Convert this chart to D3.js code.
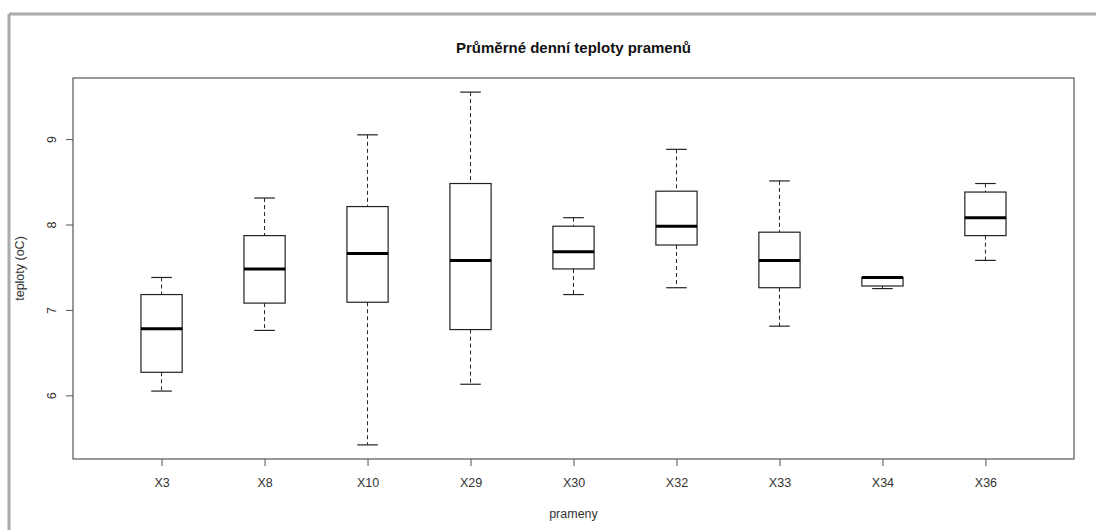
<!DOCTYPE html>
<html>
<head>
<meta charset="utf-8">
<script src="https://cdn.jsdelivr.net/npm/d3@7"></script>
<style>
  body { margin: 0; background: white; }
  svg text { font-family: "Liberation Sans", Arial, sans-serif; }
</style>
</head>
<body>
<div id="chart"></div>
<script>
// values
const categories = ["X3", "X8", "X10", "X29", "X30", "X32", "X33", "X34", "X36"];
const lowWhisker  = [6.05, 6.76, 5.42, 6.13, 7.18, 7.26, 6.81, 7.25, 7.58];
const q1          = [6.27, 7.08, 7.09, 6.77, 7.48, 7.76, 7.26, 7.28, 7.87];
const medians     = [6.78, 7.48, 7.66, 7.58, 7.68, 7.98, 7.58, 7.38, 8.08];
const q3          = [7.18, 7.87, 8.21, 8.48, 7.98, 8.39, 7.91, 7.38, 8.38];
const highWhisker = [7.38, 8.31, 9.05, 9.55, 8.08, 8.88, 8.51, 7.38, 8.48];
const yTicks = [6, 7, 8, 9];

const width = 1096, height = 530;
const plot = { left: 73, top: 78, right: 1074, bottom: 459 };

const svg = d3.select('#chart').append('svg')
    .attr('width', width)
    .attr('height', height);

// grey frame of the screenshot (top and left only)
svg.append('line').attr('x1', 9).attr('x2', width).attr('y1', 14).attr('y2', 14)
    .attr('stroke', '#aaa').attr('stroke-width', 3);
svg.append('line').attr('x1', 9).attr('x2', 9).attr('y1', 14).attr('y2', height)
    .attr('stroke', '#aaa').attr('stroke-width', 3);

const boxes = categories.map((c, i) => ({
    name: c, pos: i + 1,
    lo: lowWhisker[i], q1: q1[i], med: medians[i], q3: q3[i], hi: highWhisker[i]
}));

// R style 4% padding on both axes
const n = categories.length;
const xPad = n * 0.04;
const x = d3.scaleLinear()
    .domain([0.5 - xPad, n + 0.5 + xPad])
    .range([plot.left, plot.right]);

const yMin = d3.min(lowWhisker), yMax = d3.max(highWhisker);
const yPad = (yMax - yMin) * 0.04;
const y = d3.scaleLinear()
    .domain([yMin - yPad, yMax + yPad])
    .range([plot.bottom, plot.top]);

const boxW = x(1.4) - x(1);
const capW = boxW / 2;

const g = svg.append('g');

// whiskers (dashed)
g.selectAll('.whisk-hi').data(boxes).enter().append('line')
    .attr('x1', d => x(d.pos)).attr('x2', d => x(d.pos))
    .attr('y1', d => y(d.hi)).attr('y2', d => y(d.q3))
    .attr('stroke', '#222').attr('stroke-dasharray', '4,3');
g.selectAll('.whisk-lo').data(boxes).enter().append('line')
    .attr('x1', d => x(d.pos)).attr('x2', d => x(d.pos))
    .attr('y1', d => y(d.q1)).attr('y2', d => y(d.lo))
    .attr('stroke', '#222').attr('stroke-dasharray', '4,3');

// staples
g.selectAll('.cap-hi').data(boxes).enter().append('line')
    .attr('x1', d => x(d.pos) - capW / 2).attr('x2', d => x(d.pos) + capW / 2)
    .attr('y1', d => y(d.hi)).attr('y2', d => y(d.hi))
    .attr('stroke', '#222').attr('stroke-width', 1.2);
g.selectAll('.cap-lo').data(boxes).enter().append('line')
    .attr('x1', d => x(d.pos) - capW / 2).attr('x2', d => x(d.pos) + capW / 2)
    .attr('y1', d => y(d.lo)).attr('y2', d => y(d.lo))
    .attr('stroke', '#222').attr('stroke-width', 1.2);

// boxes
g.selectAll('.box').data(boxes).enter().append('rect')
    .attr('x', d => x(d.pos) - boxW / 2)
    .attr('width', boxW)
    .attr('y', d => y(d.q3))
    .attr('height', d => y(d.q1) - y(d.q3))
    .attr('fill', 'white')
    .attr('stroke', '#222').attr('stroke-width', 1.2);

// medians
g.selectAll('.median').data(boxes).enter().append('line')
    .attr('x1', d => x(d.pos) - boxW / 2).attr('x2', d => x(d.pos) + boxW / 2)
    .attr('y1', d => y(d.med)).attr('y2', d => y(d.med))
    .attr('stroke', '#000').attr('stroke-width', 3);

// plot frame
svg.append('rect')
    .attr('x', plot.left).attr('y', plot.top)
    .attr('width', plot.right - plot.left).attr('height', plot.bottom - plot.top)
    .attr('fill', 'none').attr('stroke', '#555').attr('stroke-width', 1.2);

// x axis
const xAxis = svg.append('g')
    .attr('transform', `translate(0,${plot.bottom})`)
    .call(d3.axisBottom(x).tickValues(d3.range(1, n + 1))
        .tickFormat(d => categories[d - 1]).tickSize(7).tickPadding(12));
xAxis.select('.domain').remove();
xAxis.selectAll('line').attr('stroke', '#555');
xAxis.selectAll('text').attr('font-size', '12.5px').attr('fill', '#333')
    .attr('font-family', '"Liberation Sans", Arial, sans-serif');

// y axis, labels parallel to the axis like R
const yAxis = svg.append('g')
    .attr('transform', `translate(${plot.left},0)`)
    .call(d3.axisLeft(y).tickValues(yTicks).tickFormat(d3.format('d')).tickSize(7));
yAxis.select('.domain').remove();
yAxis.selectAll('line').attr('stroke', '#555');
yAxis.selectAll('text')
    .attr('font-size', '12.5px').attr('fill', '#333')
    .attr('font-family', '"Liberation Sans", Arial, sans-serif')
    .attr('x', null).attr('dy', null)
    .attr('text-anchor', 'middle')
    .attr('transform', 'translate(-17,0) rotate(-90)');

// title and axis labels
svg.append('text')
    .attr('x', (plot.left + plot.right) / 2).attr('y', 53)
    .attr('text-anchor', 'middle')
    .attr('font-size', '15px').attr('font-weight', 'bold').attr('fill', '#111')
    .text('Průměrné denní teploty pramenů');

svg.append('text')
    .attr('x', (plot.left + plot.right) / 2).attr('y', 518)
    .attr('text-anchor', 'middle')
    .attr('font-size', '12.5px').attr('fill', '#333')
    .text('prameny');

svg.append('text')
    .attr('transform', `translate(24,${(plot.top + plot.bottom) / 2}) rotate(-90)`)
    .attr('text-anchor', 'middle')
    .attr('font-size', '12.5px').attr('fill', '#333')
    .text('teploty (oC)');
</script>
</body>
</html>
